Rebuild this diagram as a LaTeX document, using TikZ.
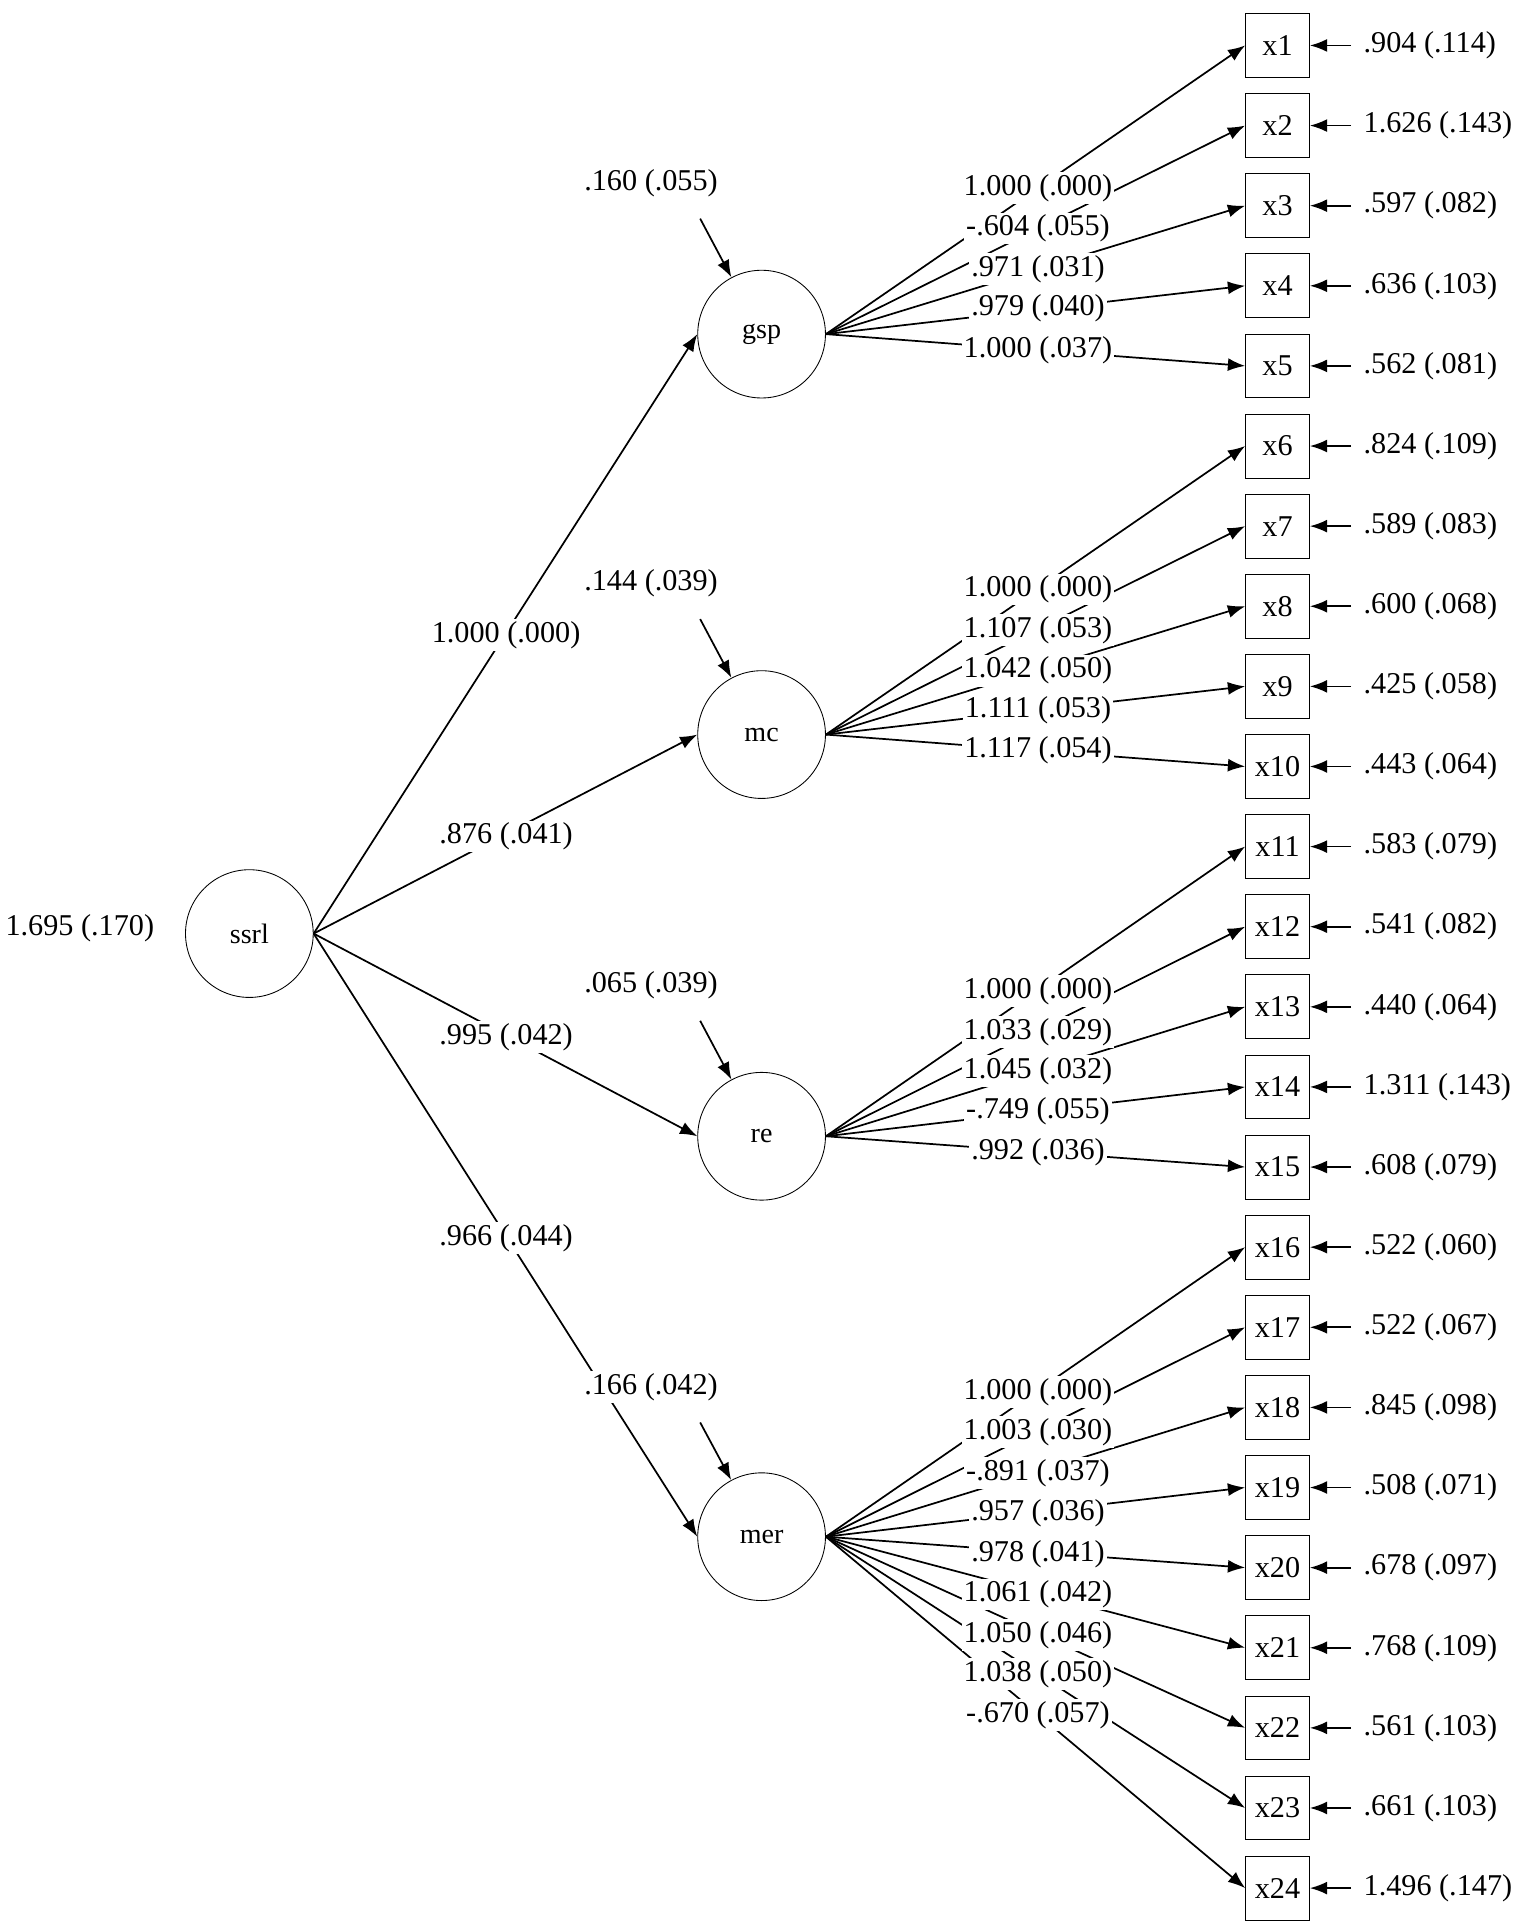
\documentclass[tikz,border=0pt]{standalone}
\usepackage{fontspec}
\setmainfont{Liberation Serif}
\usetikzlibrary{arrows.meta}
\begin{document}
\begin{tikzpicture}[x=0.02cm,y=-0.02cm,
  lat/.style={circle,draw,minimum size=2.08cm,inner sep=0pt,font=\fontsize{13}{14}\selectfont},
  obs/.style={rectangle,draw,minimum width=1.04cm,minimum height=1.04cm,inner sep=0pt,font=\fontsize{14}{15}\selectfont},
  lab/.style={inner sep=1pt,fill=white,font=\fontsize{14}{15}\selectfont},
  arr/.style={-{Latex[length=8pt,width=6pt]},line width=0.8pt}]
\useasboundingbox (0,0) rectangle (1250,1572);
\node[lat] (ssrl) at (203,760) {ssrl};
\node[lab] (vssrl) at (65,756) {1.695 (.170)};
\foreach \n/\y in {gsp/272, mc/598, re/925, mer/1251}{
  \node[lat] (\n) at (620,\y) {\n};
  \draw[arr] (ssrl.east) -- (\n.west);
}
\foreach \n/\d/\dy/\pl/\py in {gsp/.160 (.055)/149/1.000 (.000)/517, mc/.144 (.039)/475/.876 (.041)/681, re/.065 (.039)/802/.995 (.042)/844, mer/.166 (.042)/1129/.966 (.044)/1008}{
  \node[lab] (d\n) at (530,\dy) {\d};
  \coordinate (ds\n) at (570,\dy+29);
  \draw[arr] (ds\n) -- (\n);
  \node[lab] (p\n) at (412,\py) {\pl};
}
\foreach \i/\e in {1/.904 (.114),2/1.626 (.143),3/.597 (.082),4/.636 (.103),5/.562 (.081),6/.824 (.109),7/.589 (.083),8/.600 (.068),9/.425 (.058),10/.443 (.064),11/.583 (.079),12/.541 (.082),13/.440 (.064),14/1.311 (.143),15/.608 (.079),16/.522 (.060),17/.522 (.067),18/.845 (.098),19/.508 (.071),20/.678 (.097),21/.768 (.109),22/.561 (.103),23/.661 (.103),24/1.496 (.147)}{
  \node[obs] (x\i) at (1040,{37+(\i-1)*65.22}) {x\i};
  \node[lab,anchor=west] (e\i) at (1108,{37+(\i-1)*65.22}) {\e};
  \coordinate (es\i) at (1100,{37+(\i-1)*65.22});
  \draw[arr] (es\i) -- (x\i.east);
}
\foreach \f/\i in {gsp/1,gsp/2,gsp/3,gsp/4,gsp/5,mc/6,mc/7,mc/8,mc/9,mc/10,re/11,re/12,re/13,re/14,re/15,mer/16,mer/17,mer/18,mer/19,mer/20,mer/21,mer/22,mer/23,mer/24}{
  \draw[arr] (\f.east) -- (x\i.west);
}
\foreach \i/\t/\y in {1/1.000 (.000)/153,2/-.604 (.055)/186,3/.971 (.031)/219,4/.979 (.040)/251,5/1.000 (.037)/285,
 6/1.000 (.000)/480,7/1.107 (.053)/513,8/1.042 (.050)/546,9/1.111 (.053)/578,10/1.117 (.054)/611,
 11/1.000 (.000)/807,12/1.033 (.029)/840,13/1.045 (.032)/872,14/-.749 (.055)/905,15/.992 (.036)/938,
 16/1.000 (.000)/1133,17/1.003 (.030)/1166,18/-.891 (.037)/1199,19/.957 (.036)/1232,20/.978 (.041)/1265,21/1.061 (.042)/1298,22/1.050 (.046)/1331,23/1.038 (.050)/1363,24/-.670 (.057)/1396}{
  \node[lab] (l\i) at (845,\y) {\t};
}
\end{tikzpicture}
\end{document}
